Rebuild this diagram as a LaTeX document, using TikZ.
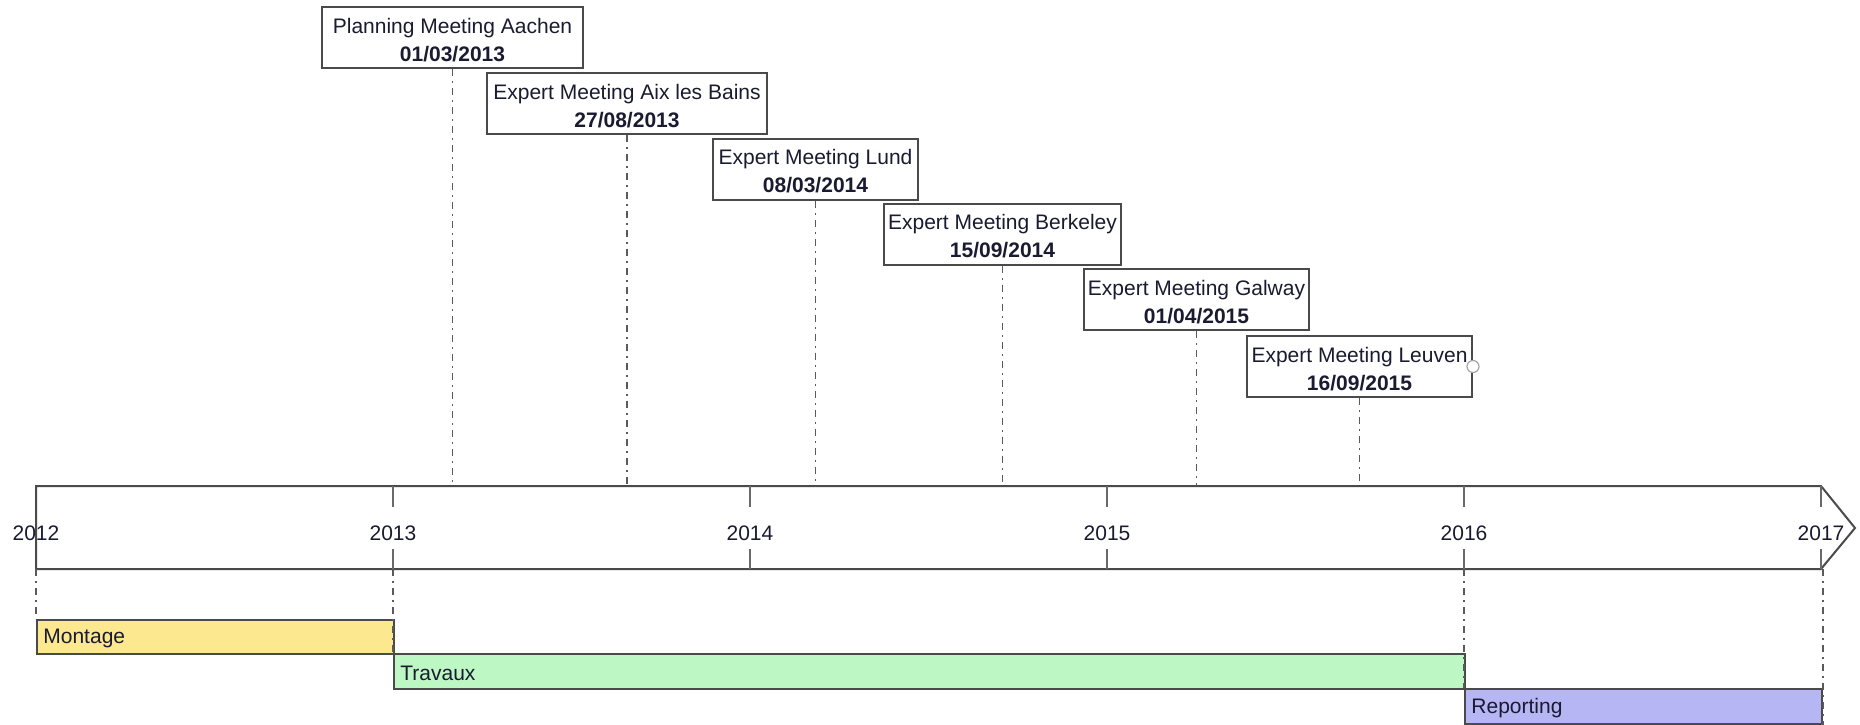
\documentclass[tikz,border=0pt]{standalone}
\usepackage{fontspec}
\setmainfont{Liberation Sans}
\definecolor{linec}{HTML}{4A4A4A}
\definecolor{tickc}{HTML}{6A6A6A}
\definecolor{guidec}{HTML}{5A5A5A}
\definecolor{txt}{HTML}{1A1A30}
\definecolor{montc}{HTML}{FCE98F}
\definecolor{travc}{HTML}{BDF7C4}
\definecolor{repc}{HTML}{B6B6F4}
\newcommand{\mstrut}{\rule{0pt}{10.2pt}}
\begin{document}
\begin{tikzpicture}[x=0.5pt,y=-0.5pt,
  font=\fontsize{10.5}{14}\selectfont, text=txt,
  band/.style={draw=linec, line width=1pt},
  tick/.style={draw=tickc, line width=1.1pt},
  guide/.style={draw=guidec, line width=0.9pt, dash pattern=on 3.5pt off 2.5pt on 1pt off 2.5pt},
  milestone/.style={draw=linec, line width=1pt, fill=white, minimum height=30.5pt, inner sep=0pt, align=center},
  bar/.style={draw=linec, line width=0.9pt, inner sep=0pt, anchor=north west},
  barlabel/.style={anchor=west, inner sep=0pt, xshift=3.5pt, yshift=-1pt},
  year/.style={inner sep=0pt}]
\useasboundingbox (0,0) rectangle (1860,724);

% band
\draw[band] (36,486) -- (1821,486) -- (1855,528) -- (1821,569) -- (36,569) -- cycle;
\coordinate (bt) at (0,486);
\coordinate (bb) at (0,569);

% ticks
\foreach \x in {393,750,1107,1464,1821}{
  \draw[tick] (\x,486) -- (\x,507);
  \draw[tick] (\x,549) -- (\x,569);
}

% year labels
\node[year] (y2012) at (36,533) {2012};
\node[year] (y2013) at (393,533) {2013};
\node[year] (y2014) at (750,533) {2014};
\node[year] (y2015) at (1107,533) {2015};
\node[year] (y2016) at (1464,533) {2016};
\node[year] (y2017) at (1821,533) {2017};

% milestones
\node[milestone, minimum width=130.5pt] (m1) at (452.5,37.5) {\mstrut Planning Meeting Aachen\\\textbf{01/03/2013}};
\node[milestone, minimum width=140pt] (m2) at (627,103.5) {\mstrut Expert Meeting Aix les Bains\\\textbf{27/08/2013}};
\node[milestone, minimum width=102.5pt] (m3) at (815.5,169) {\mstrut Expert Meeting Lund\\\textbf{08/03/2014}};
\node[milestone, minimum width=118.5pt] (m4) at (1002.5,234) {\mstrut Expert Meeting Berkeley\\\textbf{15/09/2014}};
\node[milestone, minimum width=112.5pt] (m5) at (1196.5,299.5) {\mstrut Expert Meeting Galway\\\textbf{01/04/2015}};
\node[milestone, minimum width=112.5pt] (m6) at (1359.5,366.5) {\mstrut Expert Meeting Leuven\\\textbf{16/09/2015}};
\node[circle, draw=gray!70, fill=white, line width=0.6pt, minimum size=6pt, inner sep=0pt] (handle) at (m6.east) {};

\foreach \m in {m1,m2,m3,m4,m5,m6}{
  \draw[guide] (\m.south) -- (\m.south |- bt);
}

% bars
\node[bar, fill=montc, minimum width=178.5pt, minimum height=17pt] (montage) at (36,619) {};
\node[bar, fill=travc, minimum width=535.5pt, minimum height=17.5pt] (travaux) at (393,653) {};
\node[bar, fill=repc, minimum width=178.5pt, minimum height=17.5pt] (reporting) at (1464,688) {};
\node[barlabel] (lmont) at (montage.west) {Montage};
\node[barlabel] (ltrav) at (travaux.west) {Travaux};
\node[barlabel] (lrep) at (reporting.west) {Reporting};

% guides below band
\draw[guide] (montage.north west |- bb) -- (montage.north west);
\draw[guide] (travaux.north west |- bb) -- (travaux.north west);
\draw[guide] (reporting.north west |- bb) -- (reporting.north west);
\draw[guide] (reporting.south east |- bb) -- (reporting.south east);
\end{tikzpicture}
\end{document}
